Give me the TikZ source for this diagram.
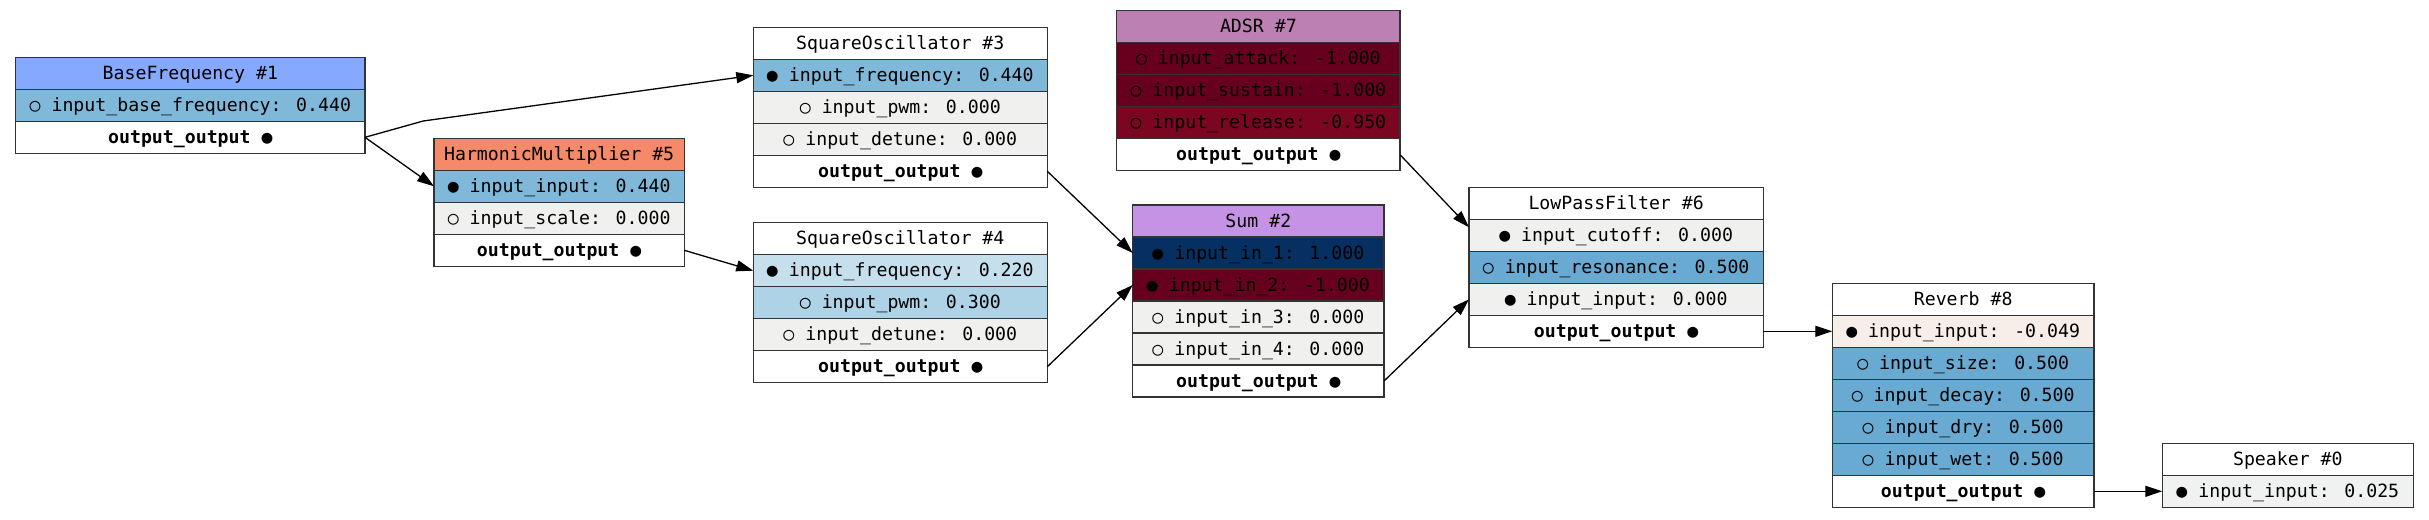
\documentclass[tikz,border=0pt]{standalone}
\usepackage{fontspec}
\newfontfamily\mono{DejaVu Sans Mono}
\usetikzlibrary{arrows.meta}
\definecolor{tBF}{HTML}{85A9FF}
\definecolor{tHM}{HTML}{F58A6A}
\definecolor{tAD}{HTML}{BC80B3}
\definecolor{tSU}{HTML}{C692E6}
\definecolor{gz}{HTML}{F0F0EE}
\definecolor{vA}{HTML}{7FB8D9}
\definecolor{vB}{HTML}{68AAD2}
\definecolor{vC}{HTML}{AED2E6}
\definecolor{vD}{HTML}{C5DFEC}
\definecolor{vM}{HTML}{67001F}
\definecolor{vN}{HTML}{7A0622}
\definecolor{vP}{HTML}{053061}
\definecolor{vQ}{HTML}{F7EEE9}
\definecolor{vR}{HTML}{F0F1F1}
\tikzset{
  row/.style={draw=black!80, line width=0.75pt, minimum height=16pt, inner sep=0pt,
    outer sep=0pt, anchor=north west, text height=8.1pt, text depth=2pt,
    font=\mono\fontsize{9.1pt}{11pt}\selectfont, text=black},
  rw/.style={minimum width=#1},
  outrow/.style={row, fill=white, font=\mono\bfseries\fontsize{9.1pt}{11pt}\selectfont},
  edge/.style={draw=black, line width=0.65pt, -{Triangle[length=8.5pt,width=5.5pt]}}
}
\begin{document}
\begin{tikzpicture}[x=0.5pt,y=-0.5pt]
\useasboundingbox (0,0) rectangle (2429,519);
% BaseFrequency #1
\node[row, rw=174.65pt, fill=tBF] (bf0) at (15.7,57.3) {BaseFrequency \#1};
\node[row, rw=174.65pt, fill=vA] (bf1) at (bf0.south west) {○ input\_base\_frequency: 0.440};
\node[outrow, rw=174.65pt] (bf2) at (bf1.south west) {output\_output ●};
% HarmonicMultiplier #5
\node[row, rw=125.15pt, fill=tHM] (hm0) at (434,138.3) {HarmonicMultiplier \#5};
\node[row, rw=125.15pt, fill=vA] (hm1) at (hm0.south west) {● input\_input: 0.440};
\node[row, rw=125.15pt, fill=gz] (hm2) at (hm1.south west) {○ input\_scale: 0.000};
\node[outrow, rw=125.15pt] (hm3) at (hm2.south west) {output\_output ●};
% SquareOscillator #3
\node[row, rw=147pt, fill=white] (sa0) at (753.3,27.3) {SquareOscillator \#3};
\node[row, rw=147pt, fill=vA] (sa1) at (sa0.south west) {● input\_frequency: 0.440};
\node[row, rw=147pt, fill=gz] (sa2) at (sa1.south west) {○ input\_pwm: 0.000};
\node[row, rw=147pt, fill=gz] (sa3) at (sa2.south west) {○ input\_detune: 0.000};
\node[outrow, rw=147pt] (sa4) at (sa3.south west) {output\_output ●};
% SquareOscillator #4
\node[row, rw=147pt, fill=white] (sb0) at (753.3,222.7) {SquareOscillator \#4};
\node[row, rw=147pt, fill=vD] (sb1) at (sb0.south west) {● input\_frequency: 0.220};
\node[row, rw=147pt, fill=vC] (sb2) at (sb1.south west) {○ input\_pwm: 0.300};
\node[row, rw=147pt, fill=gz] (sb3) at (sb2.south west) {○ input\_detune: 0.000};
\node[outrow, rw=147pt] (sb4) at (sb3.south west) {output\_output ●};
% ADSR #7
\node[row, rw=141.65pt, fill=tAD] (ad0) at (1116.7,10.7) {ADSR \#7};
\node[row, rw=141.65pt, fill=vM] (ad1) at (ad0.south west) {○ input\_attack: -1.000};
\node[row, rw=141.65pt, fill=vM] (ad2) at (ad1.south west) {○ input\_sustain: -1.000};
\node[row, rw=141.65pt, fill=vN] (ad3) at (ad2.south west) {○ input\_release: -0.950};
\node[outrow, rw=141.65pt] (ad4) at (ad3.south west) {output\_output ●};
% Sum #2
\node[row, rw=125.65pt, fill=tSU] (su0) at (1132.7,205) {Sum \#2};
\node[row, rw=125.65pt, fill=vP] (su1) at (su0.south west) {● input\_in\_1: 1.000};
\node[row, rw=125.65pt, fill=vM] (su2) at (su1.south west) {● input\_in\_2: -1.000};
\node[row, rw=125.65pt, fill=gz] (su3) at (su2.south west) {○ input\_in\_3: 0.000};
\node[row, rw=125.65pt, fill=gz] (su4) at (su3.south west) {○ input\_in\_4: 0.000};
\node[outrow, rw=125.65pt] (su5) at (su4.south west) {output\_output ●};
% LowPassFilter #6
\node[row, rw=147.15pt, fill=white] (lp0) at (1469,187.3) {LowPassFilter \#6};
\node[row, rw=147.15pt, fill=gz] (lp1) at (lp0.south west) {● input\_cutoff: 0.000};
\node[row, rw=147.15pt, fill=vB] (lp2) at (lp1.south west) {○ input\_resonance: 0.500};
\node[row, rw=147.15pt, fill=gz] (lp3) at (lp2.south west) {● input\_input: 0.000};
\node[outrow, rw=147.15pt] (lp4) at (lp3.south west) {output\_output ●};
% Reverb #8
\node[row, rw=130.85pt, fill=white] (rv0) at (1832.3,283.3) {Reverb \#8};
\node[row, rw=130.85pt, fill=vQ] (rv1) at (rv0.south west) {● input\_input: -0.049};
\node[row, rw=130.85pt, fill=vB] (rv2) at (rv1.south west) {○ input\_size: 0.500};
\node[row, rw=130.85pt, fill=vB] (rv3) at (rv2.south west) {○ input\_decay: 0.500};
\node[row, rw=130.85pt, fill=vB] (rv4) at (rv3.south west) {○ input\_dry: 0.500};
\node[row, rw=130.85pt, fill=vB] (rv5) at (rv4.south west) {○ input\_wet: 0.500};
\node[outrow, rw=130.85pt] (rv6) at (rv5.south west) {output\_output ●};
% Speaker #0
\node[row, rw=125.5pt, fill=white] (sp0) at (2162.3,443.3) {Speaker \#0};
\node[row, rw=125.5pt, fill=vR] (sp1) at (sp0.south west) {● input\_input: 0.025};
% edges
\coordinate (bend1) at (423.3,121);
\draw[edge] (bf2.east) -- (bend1) -- (sa1.west);
\draw[edge] (bf2.east) -- (hm1.west);
\draw[edge] (hm3.east) -- (sb1.west);
\draw[edge] (sa4.east) -- (su1.west);
\draw[edge] (sb4.east) -- (su2.west);
\draw[edge] (ad4.east) -- ([yshift=4pt]lp1.west);
\draw[edge] (su5.east) -- (lp3.west);
\draw[edge] (lp4.east) -- (rv1.west);
\draw[edge] (rv6.east) -- (sp1.west);
\end{tikzpicture}
\end{document}
